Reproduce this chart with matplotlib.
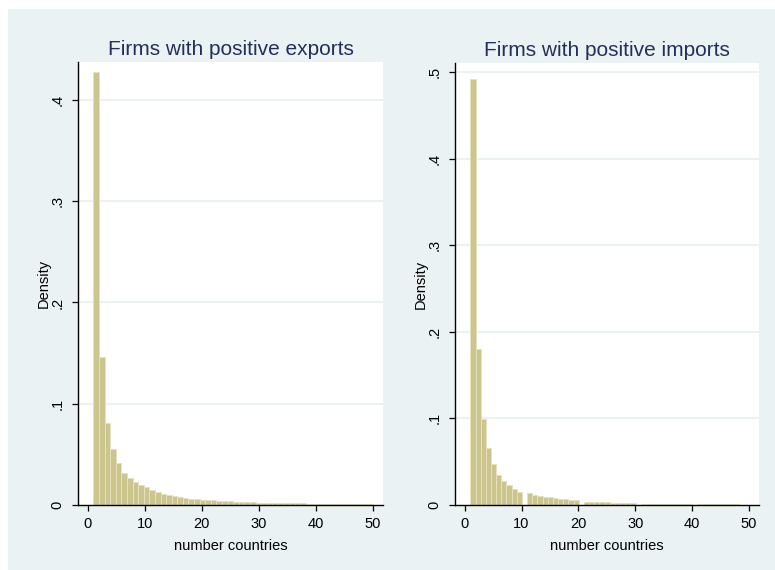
import matplotlib.pyplot as plt
import numpy as np
from matplotlib.patches import Rectangle

# number of countries a firm trades with (1..50)
n_countries = np.arange(1, 51)

# density of the bar holding each value
export_density = [0.428, 0.146, 0.081, 0.055, 0.041, 0.032, 0.027, 0.023, 0.0196, 0.0175,
                  0.0150, 0.0128, 0.0112, 0.0096, 0.0084, 0.0076, 0.0069, 0.0063, 0.0058, 0.0054,
                  0.0050, 0.0046, 0.0042, 0.0038, 0.0035, 0.0032, 0.0030, 0.0028, 0.0026, 0.0024,
                  0.0022, 0.0021, 0.0020, 0.0019, 0.0018, 0.0017, 0.0016, 0.0015, 0.0014, 0.0013,
                  0.0012, 0.0011, 0.0011, 0.0010, 0.0010, 0.0009, 0.0009, 0.0008, 0.0008, 0.0008]
import_density = [0.492, 0.180, 0.099, 0.066, 0.047, 0.035, 0.028, 0.0227, 0.0185, 0.015,
                  0.0135, 0.0118, 0.0106, 0.0097, 0.0089, 0.0081, 0.0074, 0.0067, 0.0060, 0.0055,
                  0.0040, 0.0037, 0.0034, 0.0031, 0.0029, 0.0027, 0.0025, 0.0023, 0.0021, 0.0020,
                  0.0016, 0.0015, 0.0014, 0.0013, 0.0012, 0.0012, 0.0011, 0.0010, 0.0010, 0.0009,
                  0.0008, 0.0008, 0.0007, 0.0007, 0.0007, 0.0006, 0.0006, 0.0006, 0.0005, 0.0005]
export_bins = 50
import_bins = 54

titles = ['Firms with positive exports', 'Firms with positive imports']
export_yticks = [0, 0.1, 0.2, 0.3, 0.4]
import_yticks = [0, 0.1, 0.2, 0.3, 0.4, 0.5]
xticks = [0, 10, 20, 30, 40, 50]

bg = '#eaf2f3'
bar_col = '#cdc58e'
edge_col = '#e6e1bd'
title_col = '#24305a'
plt.rcParams['font.family'] = ['Liberation Sans', 'DejaVu Sans']

fig = plt.figure(figsize=(7.75, 5.7), dpi=100)
fig.patch.set_facecolor('white')
fig.add_artist(Rectangle((8 / 775, 0), 1, 1 - 9 / 570, transform=fig.transFigure,
                         facecolor=bg, edgecolor='none', zorder=-10))

ax1 = fig.add_axes([78 / 775, 1 - 505 / 570, 305 / 775, 443 / 570])
ax2 = fig.add_axes([455 / 775, 1 - 505 / 570, 304 / 775, 442 / 570])

setups = [(ax1, export_density, export_bins, export_yticks, 0.4375),
          (ax2, import_density, import_bins, import_yticks, 0.5104)]

for i, (ax, dens, nb, yt, ytop) in enumerate(setups):
    ax.set_facecolor('white')
    ax.hist(n_countries, bins=nb, range=(1, 50), weights=dens,
            color=bar_col, edgecolor=edge_col, linewidth=0.7, zorder=2)
    ax.set_xlim(-1.7, 51.75)
    ax.set_ylim(0, ytop)
    ax.set_xticks(xticks)
    ax.set_yticks(yt)
    ax.set_yticklabels(['0'] + [('%.1f' % v)[1:] for v in yt[1:]],
                       rotation=90, va='center')
    for v in yt[1:]:
        ax.axhline(v, color=bg, lw=1.5, zorder=1)
    for s in ['top', 'right']:
        ax.spines[s].set_visible(False)
    ax.spines['left'].set_linewidth(1.0)
    ax.spines['bottom'].set_linewidth(1.0)
    ax.tick_params(direction='out', length=4.5, width=0.9, labelsize=10.5, pad=4)
    ax.tick_params(axis='y', pad=5)
    ax.set_xlabel('number countries', fontsize=10.5, labelpad=6)
    ax.set_ylabel('Density', fontsize=10.5, labelpad=0)
    ax.set_title(titles[i], fontsize=15, color=title_col, pad=5)

plt.savefig('out.png', dpi=100, facecolor=fig.get_facecolor())
